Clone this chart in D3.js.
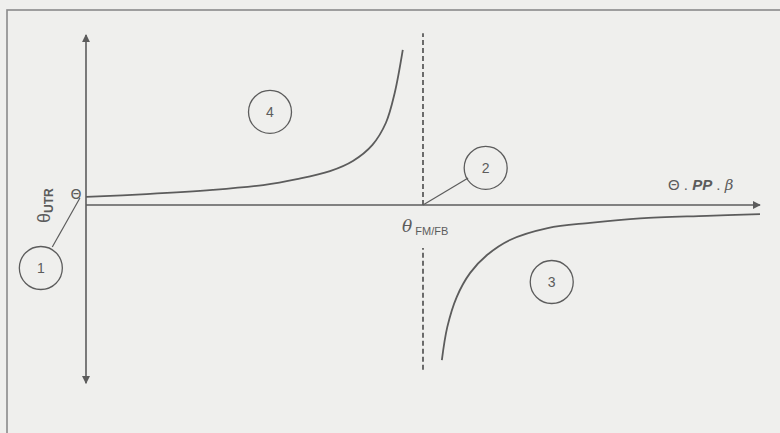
<!DOCTYPE html>
<html>
<head>
<meta charset="utf-8">
<script src="https://cdn.jsdelivr.net/npm/d3@7"></script>
<style>
  html, body { margin: 0; padding: 0; background: #efefed; }
  svg { display: block; font-family: "Liberation Sans", Arial, sans-serif; }
</style>
</head>
<body>
<svg id="chart" width="780" height="433"></svg>
<script>
// Branch left of the asymptote (region 4): [x, y]
const upperBranch = [
  [0.00, 0.23], [0.90, 0.31], [1.88, 0.43], [2.63, 0.57], [3.13, 0.74],
  [3.62, 0.97], [3.96, 1.26], [4.25, 1.72], [4.45, 2.35], [4.58, 3.20], [4.70, 4.43]
];
// Branch right of the asymptote (region 3): [x, y]
const lowerBranch = [
  [5.28, -4.43], [5.36, -3.49], [5.50, -2.63], [5.70, -1.94], [5.95, -1.43],
  [6.29, -1.00], [6.85, -0.66], [7.48, -0.51], [8.22, -0.38], [9.21, -0.31], [10.0, -0.26]
];
// Vertical asymptote position
const asymptoteX = [5.0];
// Numbered callouts: label, centre [x, y], optional leader end [x, y]
const calloutLabels = ["1", "2", "3", "4"];
const calloutCentres = [[-0.67, -1.80], [5.93, 1.06], [6.91, -2.20], [2.73, 2.66]];
const calloutLeaders = [[[-0.50, -1.20], [-0.09, 0.20]], [[5.67, 0.77], [5.0, 0.0]], null, null];

const svg = d3.select("#chart");
const ink = "#5c5c5c";

const x = d3.scaleLinear().domain([0, 10]).range([86, 760]);
const y = d3.scaleLinear().domain([-5, 5]).range([380, 30]);

// outer frame
svg.append("rect")
  .attr("x", 7).attr("y", 10).attr("width", 790).attr("height", 440)
  .attr("fill", "#efefed").attr("stroke", "#8a8a8a").attr("stroke-width", 1.6);

const defs = svg.append("defs");
defs.append("marker")
  .attr("id", "arrow").attr("viewBox", "0 0 10 10")
  .attr("refX", 9).attr("refY", 5)
  .attr("markerWidth", 8).attr("markerHeight", 8)
  .attr("markerUnits", "userSpaceOnUse")
  .attr("orient", "auto-start-reverse")
  .append("path").attr("d", "M0,0 L10,5 L0,10 Z").attr("fill", ink);

// axes
svg.append("line")
  .attr("x1", x(0)).attr("x2", x(0))
  .attr("y1", y(-5.09)).attr("y2", y(4.86))
  .attr("stroke", ink).attr("stroke-width", 1.6)
  .attr("marker-start", "url(#arrow)").attr("marker-end", "url(#arrow)");
svg.append("line")
  .attr("x1", x(0)).attr("x2", x(10))
  .attr("y1", y(0)).attr("y2", y(0))
  .attr("stroke", ink).attr("stroke-width", 1.6)
  .attr("marker-end", "url(#arrow)");

// dashed asymptote, interrupted by its label
asymptoteX.forEach(a => {
  [[0, 4.91], [-4.71, -1.23]].forEach(([y0, y1]) => {
    svg.append("line")
      .attr("x1", x(a)).attr("x2", x(a))
      .attr("y1", y(y0)).attr("y2", y(y1))
      .attr("stroke", ink).attr("stroke-width", 1.8)
      .attr("stroke-dasharray", "5,3");
  });
});

// curves
const line = d3.line().x(d => x(d[0])).y(d => y(d[1])).curve(d3.curveCatmullRom.alpha(0.5));
[upperBranch, lowerBranch].forEach(b => {
  svg.append("path").attr("d", line(b))
    .attr("fill", "none").attr("stroke", ink).attr("stroke-width", 1.8);
});

// callouts
calloutLabels.forEach((lab, i) => {
  const [cx, cy] = calloutCentres[i];
  const lead = calloutLeaders[i];
  if (lead) {
    svg.append("line")
      .attr("x1", x(lead[0][0])).attr("y1", y(lead[0][1]))
      .attr("x2", x(lead[1][0])).attr("y2", y(lead[1][1]))
      .attr("stroke", ink).attr("stroke-width", 1.2);
  }
  svg.append("circle").attr("cx", x(cx)).attr("cy", y(cy)).attr("r", 21.5)
    .attr("fill", "none").attr("stroke", ink).attr("stroke-width", 1.3);
  svg.append("text").attr("x", x(cx)).attr("y", y(cy) + 5)
    .attr("text-anchor", "middle").attr("font-size", 14).attr("fill", ink)
    .text(lab);
});

// Θ at the y-intercept
svg.append("text").attr("x", 76).attr("y", 199)
  .attr("text-anchor", "middle").attr("font-size", 14)
  .attr("font-family", "DejaVu Sans, sans-serif").attr("fill", ink).text("Θ");

// vertical axis title θ_UTR
const yt = svg.append("text")
  .attr("transform", "translate(50,223) rotate(-90)")
  .attr("fill", ink).attr("font-size", 18);
yt.append("tspan").text("θ");
yt.append("tspan").attr("font-size", 12).attr("font-weight", "bold").attr("dy", 3).text("UTR");

// asymptote label θ_FM/FB
const at = svg.append("text").attr("x", 402).attr("y", 232)
  .attr("fill", ink).attr("font-size", 17);
at.append("tspan").attr("font-style", "italic").attr("font-family", "DejaVu Serif, serif").text("θ");
at.append("tspan").attr("font-size", 11).attr("dx", 3).attr("dy", 3).text("FM/FB");

// horizontal axis title
const xt = svg.append("text").attr("x", 668).attr("y", 190)
  .attr("fill", ink).attr("font-size", 15);
xt.append("tspan").text("Θ . ");
xt.append("tspan").attr("font-weight", "bold").attr("font-style", "italic").text("PP");
xt.append("tspan").text(" . ");
xt.append("tspan").attr("font-style", "italic").attr("font-family", "DejaVu Serif, serif").text("β");
</script>
</body>
</html>
